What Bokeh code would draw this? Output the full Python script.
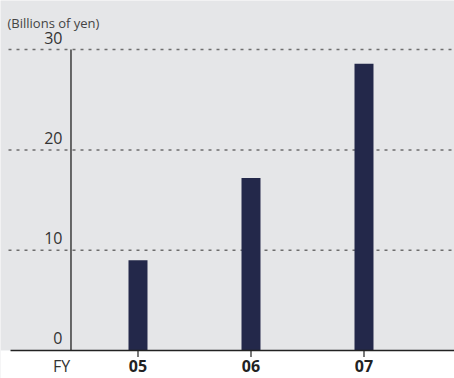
from bokeh.plotting import figure
from bokeh.models import Range1d, BoxAnnotation, ColumnDataSource, Label
from bokeh.core.properties import value
from bokeh.embed import file_html
from bokeh.resources import INLINE

# data
fy_labels = ["05", "06", "07"]
amounts = [9.0, 17.2, 28.6]
y_ticks = [0, 10, 20, 30]
y_tick_labels = ["0", "10", "20", "30"]
unit_label = "(Billions of yen)"
fy_title = "FY"

BG = "#e5e6e8"
BAR = "#23284a"
TXT = "#333333"
FONT = "Open Sans"

xs = list(range(len(fy_labels)))

X0, X1 = -1.2168, 2.8009
p = figure(width=454, height=378, output_backend="svg", toolbar_location=None,
           x_range=Range1d(X0, X1), y_range=Range1d(-2.792, 34.895),
           min_border_left=0, min_border_right=0, min_border_top=0, min_border_bottom=0)
p.background_fill_color = BG
p.border_fill_color = "white"
p.outline_line_color = None
p.xgrid.visible = False
p.ygrid.visible = False
p.xaxis.visible = False
p.yaxis.visible = False

# white strip below the baseline
p.add_layout(BoxAnnotation(top=0, fill_color="white", fill_alpha=1.0, line_color=None, level="underlay"))

# dotted gridlines (not at 0)
gx0 = -1.146
gy = [t for t in y_ticks if t > 0]
p.segment(x0=[gx0] * len(gy), x1=[X1] * len(gy), y0=gy, y1=gy,
          line_color="#6e6e6e", line_width=1.5, line_dash="3 5")

# vertical axis line
ax_x = -0.593
p.segment(x0=[ax_x], x1=[ax_x], y0=[0], y1=[max(y_ticks)], line_color="#222222", line_width=1.3)

# y tick labels
src_y = ColumnDataSource(dict(x=[-0.668] * len(y_ticks), y=y_ticks, t=y_tick_labels))
p.text(x="x", y="y", text="t", source=src_y, text_align="right", text_baseline="alphabetic",
       y_offset=-12, text_font=value(FONT), text_font_size="16px", text_color=TXT)

# bars
p.vbar(x=xs, top=amounts, width=0.168, bottom=0, fill_color=BAR, line_color=None)

# baseline (x axis line) and tick marks
p.segment(x0=[-1.128], x1=[X1], y0=[0], y1=[0], line_color="#222222", line_width=1.5)
p.segment(x0=xs, x1=xs, y0=[0] * len(xs), y1=[-0.65] * len(xs), line_color="#222222", line_width=1.2)

# x tick labels
src_x = ColumnDataSource(dict(x=xs, y=[0] * len(xs), t=fy_labels))
p.text(x="x", y="y", text="t", source=src_x, text_align="center", text_baseline="alphabetic",
       y_offset=16, text_font=value(FONT), text_font_style="bold", text_font_size="16px",
       text_color="#222222")
p.text(x=[-0.677], y=[0], text=[fy_title], text_align="center", text_baseline="alphabetic",
       y_offset=16, text_font=value(FONT), text_font_size="16px", text_color=TXT)

# unit label
p.add_layout(Label(x=7, y=356, x_units="screen", y_units="screen", text=unit_label,
                   text_baseline="alphabetic",
                   text_font=FONT, text_font_size="13px", text_color="#444444"))

open("out.html", "w").write(file_html(p, INLINE))
